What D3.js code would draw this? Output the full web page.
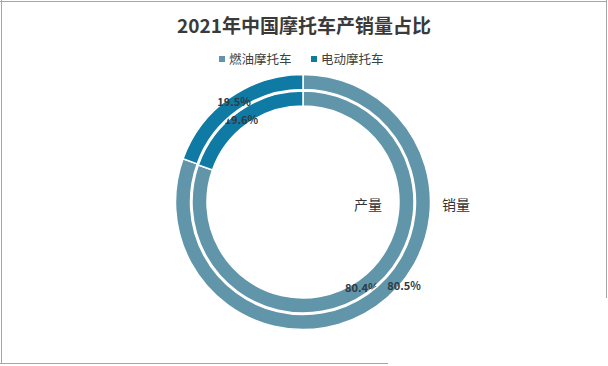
<!DOCTYPE html>
<html><head><meta charset="utf-8">
<script src="https://cdn.jsdelivr.net/npm/d3@7"></script>
<style>html,body{margin:0;padding:0;background:#fff;}svg{display:block;}</style>
</head><body>
<svg id="chart" width="608" height="366"></svg>
<script>
const title = "2021年中国摩托车产销量占比";
const categories = ["燃油摩托车", "电动摩托车"];
const seriesNames = ["产量", "销量"];
const production = [80.4, 19.6];
const sales = [80.5, 19.5];
const colors = ["#6195aa", "#0f7aa4"];

const svg = d3.select("#chart");
const font = "'Noto Sans CJK SC','Noto Sans',sans-serif";

// border (partial, as in screenshot)
const bc = "#a6a6a6";
svg.append("line").attr("x1",0).attr("x2",607).attr("y1",1.5).attr("y2",1.5).attr("stroke",bc);
svg.append("line").attr("x1",1.5).attr("x2",1.5).attr("y1",0).attr("y2",364).attr("stroke",bc);
svg.append("line").attr("x1",606.5).attr("x2",606.5).attr("y1",0).attr("y2",298).attr("stroke",bc);
svg.append("line").attr("x1",0).attr("x2",388).attr("y1",363.5).attr("y2",363.5).attr("stroke",bc);

svg.append("text").attr("x",304).attr("y",33).attr("text-anchor","middle")
  .attr("font-family",font).attr("font-weight","bold").attr("font-size",19)
  .attr("fill","#3a3a3a").text(title);

// legend
const legend = svg.append("g");
const legendX = [219, 311];
categories.forEach((c,i)=>{
  const g = legend.append("g").attr("transform",`translate(${legendX[i]},0)`);
  g.append("rect").attr("x",0).attr("y",56).attr("width",6).attr("height",6).attr("fill",colors[i]);
  g.append("text").attr("x",10).attr("y",63.5).attr("font-family",font).attr("font-size",12.5)
   .attr("fill","#404040").text(c);
});

const cx = 303, cy = 202;
const pie = d3.pie().sort(null).value(d=>d);
const rings = [
  {name: seriesNames[0], data: production, inner: 96, outer: 111},
  {name: seriesNames[1], data: sales, inner: 112.5, outer: 127.5}
];
const g = svg.append("g").attr("transform",`translate(${cx},${cy})`);
const labelNudge = [[[-1,2],[-2,3]], [[32,-14],[0,-1.5]]];
rings.forEach((ring, ri)=>{
  const arc = d3.arc().innerRadius(ring.inner).outerRadius(ring.outer);
  const arcs = pie(ring.data);
  g.selectAll(null).data(arcs).enter().append("path")
    .attr("d",arc).attr("fill",(d,i)=>colors[i])
    .attr("stroke","#fff").attr("stroke-width",1.5);
  g.selectAll(null).data(arcs).enter().append("text")
    .attr("transform",(d,i)=>{const c=arc.centroid(d);return `translate(${c[0]+labelNudge[ri][i][0]},${c[1]+labelNudge[ri][i][1]})`;})
    .attr("text-anchor","middle").attr("dy","0.35em")
    .attr("font-family",font).attr("font-weight","bold").attr("font-size",11)
    .attr("fill","#2e3b45").text(d=>d.data.toFixed(1)+"%");
});
// series name labels
svg.append("text").attr("x",368).attr("y",210).attr("text-anchor","middle")
  .attr("font-family",font).attr("font-size",14).attr("fill","#333").text(seriesNames[0]);
svg.append("text").attr("x",456).attr("y",210).attr("text-anchor","middle")
  .attr("font-family",font).attr("font-size",14).attr("fill","#333").text(seriesNames[1]);
</script>
</body></html>
